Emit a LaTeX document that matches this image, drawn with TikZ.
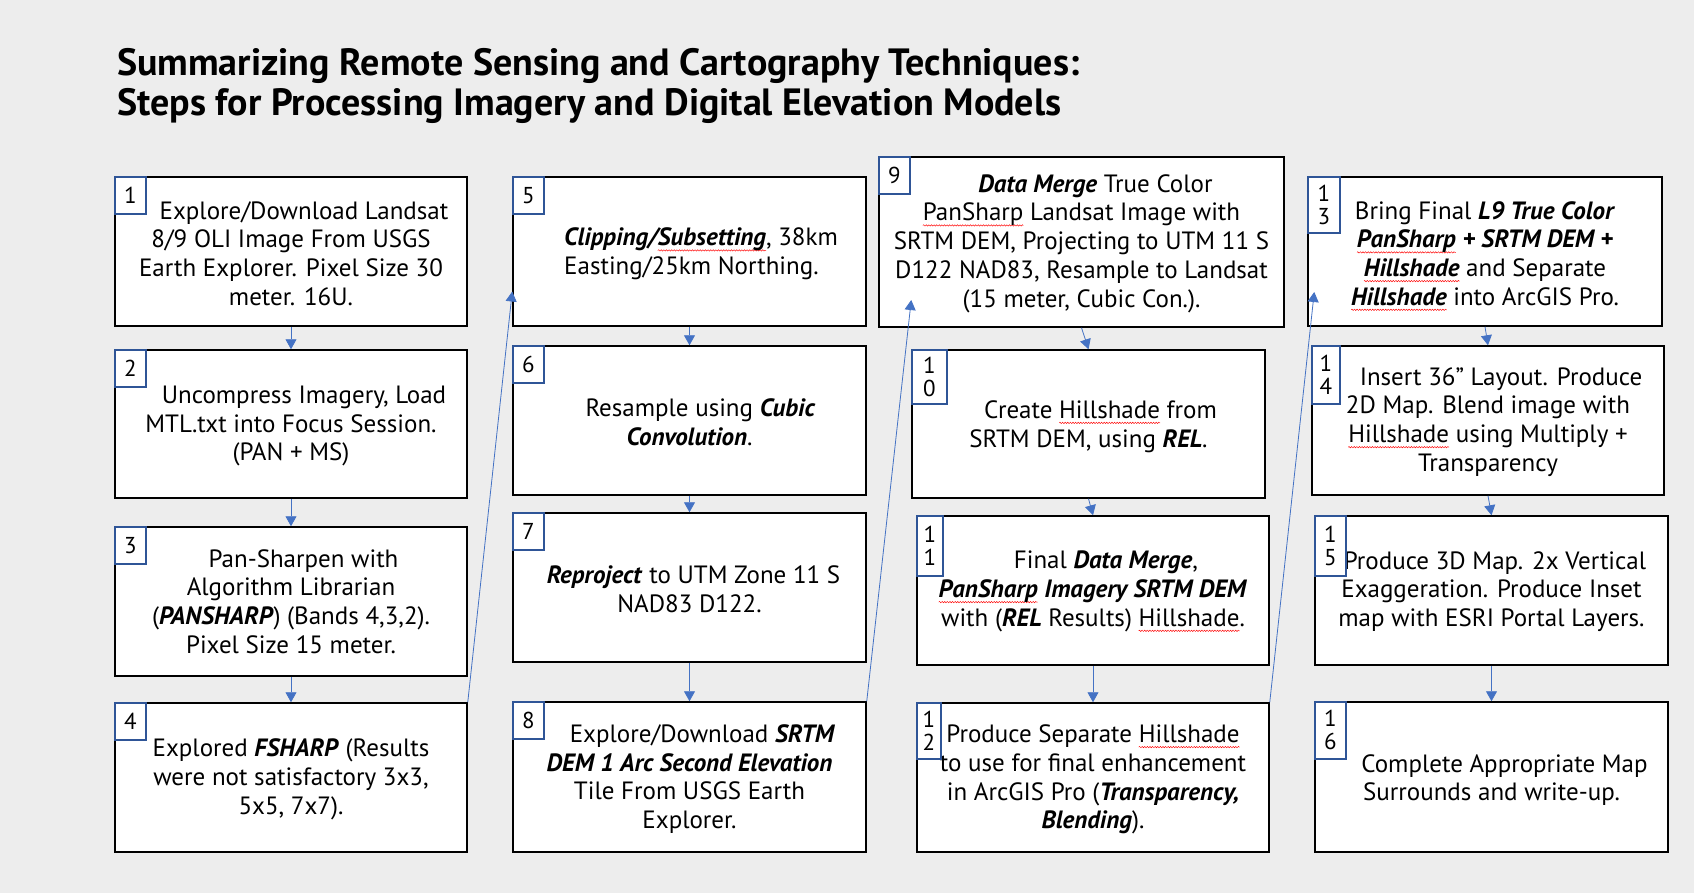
\documentclass[tikz,border=0pt]{standalone}
\usepackage{fontspec}
\setmainfont{PT Sans}
\newfontfamily\titlefont{PT Sans}
\usetikzlibrary{arrows.meta,calc,decorations.pathmorphing}
\definecolor{bgcol}{HTML}{EDEDED}
\definecolor{numblue}{HTML}{2F5597}
\definecolor{arrowblue}{HTML}{4472C4}
\newsavebox\spellbox
\newlength\spellw
\newcommand\spellerr[1]{\sbox\spellbox{#1}\setlength\spellw{\wd\spellbox}%
  \rlap{\tikz[overlay]\draw[red,line width=0.45pt,decorate,decoration={snake,amplitude=0.7pt,segment length=2.6pt}] (0pt,-4.5pt) -- (\spellw,-4.5pt);}\usebox\spellbox}
\newcommand\bitxt[1]{\textbf{\textit{#1}}}
\begin{document}
\begin{tikzpicture}[x=1pt,y=-1pt,
  stepbox/.style={draw=black,line width=1.5pt,fill=white,inner sep=0pt},
  steptext/.style={align=center,font=\fontsize{25}{28.7}\selectfont,inner sep=0pt},
  numbox/.style={draw=numblue,line width=1.3pt,fill=white,inner sep=0pt,anchor=north west,
    minimum width=31pt,minimum height=37pt,align=center,font=\fontsize{23}{23}\selectfont},
  numboxtwo/.style={numbox,minimum height=57pt},
  conn/.style={draw=arrowblue,line width=0.8pt,-{Triangle[width=11pt,length=10pt]}},
  titletext/.style={anchor=base west,inner sep=0pt,font=\titlefont\bfseries\fontsize{38}{40}\selectfont}]
\fill[bgcol] (0,0) rectangle (1694,893);
\useasboundingbox (0,0) rectangle (1694,893);

\node[titletext] (title1) at (117,76) {Summarizing Remote Sensing and Cartography Techniques:};
\node[titletext] (title2) at (117,116) {Steps for Processing Imagery and Digital Elevation Models};

% column 1
\node[stepbox,minimum width=352pt,minimum height=149pt] (b1) at (291,251.5) {};
\node[stepbox,minimum width=352pt,minimum height=148pt] (b2) at (291,424) {};
\node[stepbox,minimum width=352pt,minimum height=149pt] (b3) at (291,601.5) {};
\node[stepbox,minimum width=352pt,minimum height=149pt] (b4) at (291,777.5) {};
% column 2
\node[stepbox,minimum width=353pt,minimum height=149pt] (b5) at (689.5,251.5) {};
\node[stepbox,minimum width=353pt,minimum height=149pt] (b6) at (689.5,420.5) {};
\node[stepbox,minimum width=353pt,minimum height=149pt] (b7) at (689.5,587.5) {};
\node[stepbox,minimum width=353pt,minimum height=150pt] (b8) at (689.5,777) {};
% column 3
\node[stepbox,minimum width=405pt,minimum height=170pt] (b9) at (1081.5,242) {};
\node[stepbox,minimum width=353pt,minimum height=148pt] (b10) at (1088.5,424) {};
\node[stepbox,minimum width=352pt,minimum height=149pt] (b11) at (1093,590.5) {};
\node[stepbox,minimum width=352pt,minimum height=149pt] (b12) at (1093,777.5) {};
% column 4
\node[stepbox,minimum width=354pt,minimum height=149pt] (b13) at (1485,251.5) {};
\node[stepbox,minimum width=352pt,minimum height=149pt] (b14) at (1488,420.5) {};
\node[stepbox,minimum width=353pt,minimum height=149pt] (b15) at (1491.5,590.5) {};
\node[stepbox,minimum width=353pt,minimum height=150pt] (b16) at (1491.5,777) {};

% texts
\node[steptext] (t1) at ([yshift=-2pt]b1.center) {\hspace*{26pt}Explore/Download Landsat\\8/9 OLI Image From USGS\\Earth Explorer. Pixel Size 30\\meter. 16U.};
\node[steptext] (t2) at ([yshift=-2pt]b2.center) {\hspace*{26pt}Uncompress Imagery, Load\\MTL.txt into Focus Session.\\(PAN + MS)};
\node[steptext] (t3) at (b3.center) {\hspace*{25pt}Pan-Sharpen with\\Algorithm Librarian\\(\bitxt{PANSHARP}) (Bands 4,3,2).\\Pixel Size 15 meter.};
\node[steptext] (t4) at ([yshift=-2pt]b4.center) {Explored \bitxt{FSHARP} (Results\\were not satisfactory 3x3,\\5x5, 7x7).};
\node[steptext,align=left,anchor=west] (t5) at (564,254) {\bitxt{Clipping/\spellerr{Subsetting}}, 38km\\Easting/25km Northing.};
\node[steptext] (t6) at ([yshift=-2pt]b6.center) {\hspace*{22pt}Resample using \bitxt{Cubic}\\\bitxt{Convolution}.};
\node[steptext] (t7) at ([yshift=-2pt]b7.center) {\hspace*{8pt}\bitxt{Reproject} to UTM Zone 11 S\\NAD83 D122.};
\node[steptext] (t8) at ([yshift=-2pt]b8.center) {\hspace*{26pt}Explore/Download \bitxt{SRTM}\\\bitxt{DEM 1 Arc Second Elevation}\\Tile From USGS Earth\\Explorer.};
\node[steptext] (t9) at ([yshift=-1.5pt]b9.center) {\hspace*{28pt}\bitxt{Data Merge} True Color\\\spellerr{PanSharp} Landsat Image with\\SRTM DEM, Projecting to UTM 11 S\\D122 NAD83, Resample to Landsat\\(15 meter, Cubic Con.).};
\node[steptext] (t10) at ([yshift=-2.5pt]b10.center) {\hspace*{24pt}Create \spellerr{Hillshade} from\\SRTM DEM, using \bitxt{REL}.};
\node[steptext] (t11) at ([yshift=-1pt]b11.center) {\hspace*{26pt}Final \bitxt{Data Merge},\\\bitxt{\spellerr{PanSharp}} \bitxt{Imagery SRTM DEM}\\with (\bitxt{REL} Results) \spellerr{Hillshade}.};
\node[steptext] (t12) at ([yshift=-2pt]b12.center) {Produce Separate \spellerr{Hillshade}\\to use for final enhancement\\in ArcGIS Pro (\bitxt{Transparency,}\\\bitxt{Blending}).};
\node[steptext] (t13) at ([yshift=-2pt]b13.center) {Bring Final \bitxt{L9 True Color}\\\bitxt{\spellerr{PanSharp}} \bitxt{+ SRTM DEM +}\\\bitxt{\spellerr{Hillshade}} and Separate\\\bitxt{\spellerr{Hillshade}} into ArcGIS Pro.};
\node[steptext] (t14) at ([yshift=-1.5pt]b14.center) {\hspace*{26pt}Insert 36” Layout. Produce\\2D Map. Blend image with\\\spellerr{Hillshade} using Multiply +\\Transparency};
\node[steptext] (t15) at ([yshift=-1pt]b15.center) {\hspace*{7pt}Produce 3D Map. 2x Vertical\\Exaggeration. Produce Inset\\map with ESRI Portal Layers.};
\node[steptext] (t16) at ([yshift=-3pt]b16.center) {\hspace*{26pt}Complete Appropriate Map\\Surrounds and write-up.};

% numbers
\node[numbox] (n1) at (b1.north west) {1};
\node[numbox] (n2) at (b2.north west) {2};
\node[numbox] (n3) at (b3.north west) {3};
\node[numbox] (n4) at (b4.north west) {4};
\node[numbox] (n5) at (b5.north west) {5};
\node[numbox] (n6) at (b6.north west) {6};
\node[numbox] (n7) at (b7.north west) {7};
\node[numbox] (n8) at (b8.north west) {8};
\node[numbox] (n9) at (b9.north west) {9};
\node[numboxtwo,minimum width=35pt,minimum height=54pt] (n10) at (b10.north west) {1\\0};
\node[numboxtwo,minimum width=26pt,minimum height=60pt] (n11) at (b11.north west) {1\\1};
\node[numboxtwo,minimum width=24pt,minimum height=56pt] (n12) at (b12.north west) {1\\2};
\node[numboxtwo,minimum width=32pt,minimum height=56pt] (n13) at (b13.north west) {1\\3};
\node[numboxtwo,minimum width=28pt,minimum height=58pt] (n14) at (b14.north west) {1\\4};
\node[numboxtwo,minimum width=31pt,minimum height=60pt] (n15) at (b15.north west) {1\\5};
\node[numboxtwo,minimum width=31pt,minimum height=57pt] (n16) at (b16.north west) {1\\6};

% connectors
\draw[conn] (b1.south) -- (b2.north);
\draw[conn] (b2.south) -- (b3.north);
\draw[conn] (b3.south) -- (b4.north);
\draw[conn] (b4.north east) -- ([yshift=-40pt]b5.west);
\draw[conn] (b5.south) -- (b6.north);
\draw[conn] (b6.south) -- (b7.north);
\draw[conn] (b7.south) -- (b8.north);
\draw[conn] (b8.north east) -- ([xshift=33pt,yshift=-58pt]b9.west);
\draw[conn] (b9.south) -- (b10.north);
\draw[conn] (b10.south) -- (b11.north);
\draw[conn] (b11.south) -- (b12.north);
\draw[conn] (b12.north east) -- ([xshift=7pt,yshift=-40.5pt]b13.west);
\draw[conn] (b13.south) -- (b14.north);
\draw[conn] (b14.south) -- (b15.north);
\draw[conn] (b15.south) -- (b16.north);
\end{tikzpicture}
\end{document}
